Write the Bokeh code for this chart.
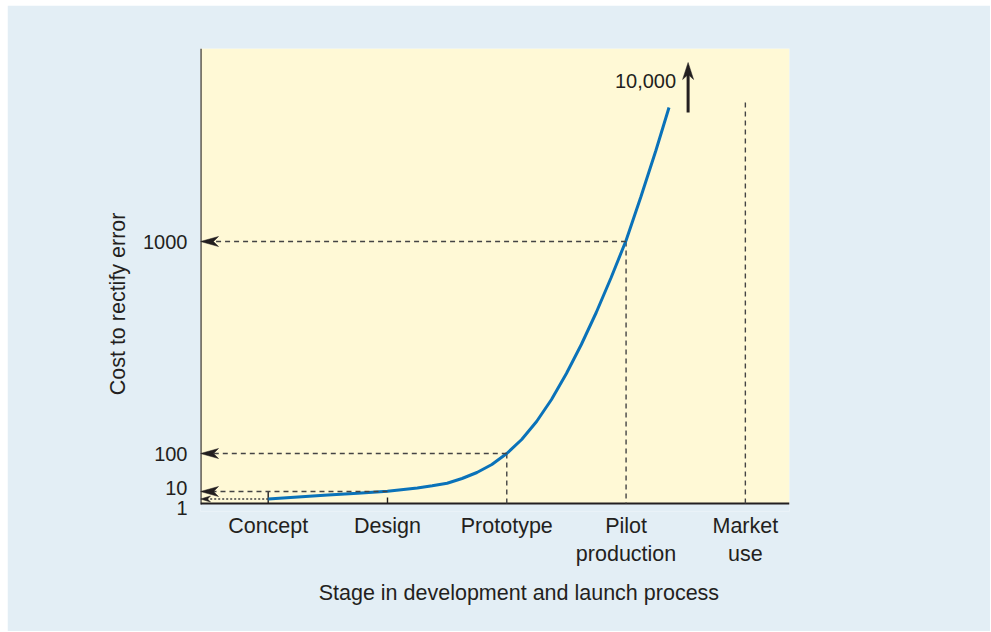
from bokeh.plotting import figure
from bokeh.models import FixedTicker, Range1d
from bokeh.embed import file_html
from bokeh.resources import INLINE

# ---- data -------------------------------------------------------------
stages = ["Concept", "Design", "Prototype", "Pilot\nproduction", "Market\nuse"]
stage_x = [1, 2, 3, 4, 5]

# schematic (non-linear) cost axis: height of each cost level
cost_labels = ["1", "10", "100", "1000"]
cost_level = [4.5, 12, 50, 262]
cost_stage = [1, 2, 3, 4]          # stage at which each cost level is reached

top_label = "10,000"
top_level = [391, 441]             # arrow pointing off the chart

# cost curve (stage, schematic height)
curve_x = [1.00, 1.25, 1.50, 1.75, 2.00, 2.25, 2.375, 2.50, 2.625, 2.75, 2.875,
           3.00, 3.125, 3.25, 3.375, 3.50, 3.625, 3.75, 3.875, 4.00, 4.125,
           4.25, 4.36]
curve_y = [4.5, 6.5, 8.4, 10.3, 12.3, 15.5, 17.7, 20.3, 25, 31, 39,
           50, 64, 82, 104, 130, 159, 191, 226, 263, 307,
           353, 396]

market_top = 401

# ---- styling constants ------------------------------------------------
FONT = "Liberation Sans"
TXT = "#231f20"
PANEL = "#e3eef5"
PLOTBG = "#fff9d6"
BLUE = "#0a72b9"
DASH = "#444444"
WORD = "21.5px"
NUM = "20px"
NB = "\u00a0"

x0, x1 = 0.4325, 5.370
y0, y1 = -8, 455
FRAME_W = 589
PXX = FRAME_W / (x1 - x0)          # screen px per x unit (y: 1 unit = 1 px)
label_shift = [-9, 4, 0, 0]        # px shift of the crowded low labels

p = figure(width=983, height=626, output_backend="svg", toolbar_location=None,
           x_range=Range1d(x0, x1), y_range=Range1d(y0, y1),
           min_border_left=193, min_border_right=201,
           min_border_top=43, min_border_bottom=120)
p.margin = (5, 0, 0, 7)
p.background_fill_color = PANEL
p.border_fill_color = PANEL
p.outline_line_color = None
p.grid.visible = False

# plotting area (yellow) above the stage axis
p.quad(left=[x0], right=[x1], bottom=[0], top=[y1], fill_color=PLOTBG, line_color=None)

# x axis
xa = p.xaxis[0]
xa.ticker = FixedTicker(ticks=stage_x)
xa.major_label_overrides = {x: s for x, s in zip(stage_x, stages)}
xa.major_tick_in = 0
xa.major_tick_out = 0
xa.minor_tick_line_color = None
xa.major_label_standoff = 2
xa.major_label_text_font = FONT
xa.major_label_text_font_size = WORD
xa.major_label_text_color = TXT
xa.axis_line_color = None
xa.axis_label = NB * 8 + "Stage in development and launch process"
xa.axis_label_text_font = FONT
xa.axis_label_text_font_size = WORD
xa.axis_label_text_font_style = "normal"
xa.axis_label_text_color = TXT
xa.axis_label_standoff = 12

# y axis (labels of the schematic cost levels)
ya = p.yaxis[0]
tick_pos = [c + s for c, s in zip(cost_level, label_shift)]
ya.ticker = FixedTicker(ticks=tick_pos)
ya.major_label_overrides = {t: l for t, l in zip(tick_pos, cost_labels)}
ya.major_tick_out = 0
ya.major_tick_in = 0
ya.minor_tick_line_color = None
ya.major_label_standoff = 13
ya.major_label_text_font = FONT
ya.major_label_text_font_size = NUM
ya.major_label_text_color = TXT
ya.axis_line_color = None
ya.axis_label = "Cost to rectify error" + NB * 8
ya.axis_label_text_font = FONT
ya.axis_label_text_font_size = WORD
ya.axis_label_text_font_style = "normal"
ya.axis_label_text_color = TXT
ya.axis_label_standoff = 10

# axis lines
p.segment(x0=[x0], y0=[0], x1=[x1], y1=[0], line_color=TXT, line_width=2)
p.segment(x0=[x0], y0=[-1], x1=[x0], y1=[y1], line_color=TXT, line_width=2.2)

# vertical guide lines
p.segment(x0=[3, 4], y0=[cost_level[2], cost_level[3]], x1=[3, 4], y1=[0, 0],
          line_color=DASH, line_width=1.4, line_dash="5 4")
p.segment(x0=[5], y0=[market_top], x1=[5], y1=[0],
          line_color=DASH, line_width=1.4, line_dash="5 4")
p.segment(x0=[1, 2], y0=[cost_level[1], 6], x1=[1, 2], y1=[0, 0],
          line_color=TXT, line_width=1.4)

# curve
p.line(curve_x, curve_y, line_color=BLUE, line_width=3)

# dashed / dotted leaders to the cost axis
p.segment(x0=cost_stage[1:], y0=cost_level[1:], x1=[x0 + 12 / PXX] * 3, y1=cost_level[1:],
          line_color=DASH, line_width=1.4, line_dash="5 4")
p.segment(x0=cost_stage[:1], y0=cost_level[:1], x1=[x0 + 6 / PXX], y1=cost_level[:1],
          line_color=DASH, line_width=1.4, line_dash="2 2")


def left_head(tx, ty, length, width, notch):
    xs = [tx, tx + length / PXX, tx + (length - notch) / PXX, tx + length / PXX]
    ys = [ty, ty + width / 2, ty, ty - width / 2]
    return xs, ys


hx, hy = [], []
for lvl in cost_level[1:]:
    a, b = left_head(x0, lvl, 18, 10, 5)
    hx.append(a)
    hy.append(b)
a, b = left_head(x0, cost_level[0], 10, 6, 3)
hx.append(a)
hy.append(b)

# 10,000 arrow (shaft + up-pointing head)
ax = 4.52
p.segment(x0=[ax], y0=[top_level[0]], x1=[ax], y1=[top_level[1] - 10],
          line_color=TXT, line_width=3)
hx.append([ax, ax + 5.5 / PXX, ax, ax - 5.5 / PXX])
hy.append([top_level[1], top_level[1] - 17, top_level[1] - 12, top_level[1] - 17])
p.patches(hx, hy, fill_color=TXT, line_color=TXT, line_width=0.5)

p.text(x=[ax], y=[423], text=[top_label], x_offset=-12,
       text_align="right", text_baseline="middle",
       text_font={"value": FONT}, text_font_size=NUM, text_color=TXT)

open("out.html", "w").write(file_html(p, INLINE))
